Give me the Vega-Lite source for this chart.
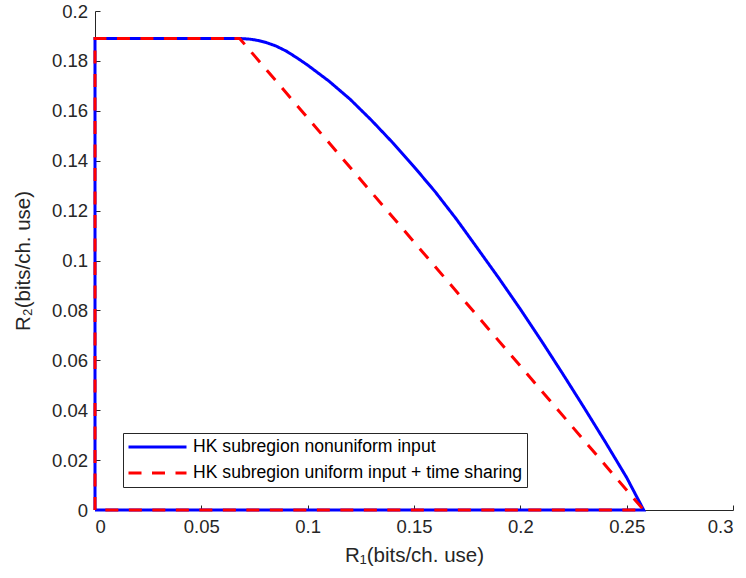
{
  "$schema": "https://vega.github.io/schema/vega-lite/v6.json",
  "width": 638,
  "height": 499,
  "autosize": {"type": "none"},
  "padding": {"left": 95, "top": 11, "right": 13, "bottom": 68},
  "background": "white",
  "config": {
    "view": {"stroke": null},
    "font": "Liberation Sans",
    "axis": {
      "grid": false,
      "domainColor": "#262626",
      "domainWidth": 1,
      "tickColor": "#262626",
      "tickWidth": 1,
      "tickSize": -5,
      "labelColor": "#262626",
      "labelFont": "Liberation Sans",
      "labelFontSize": 18.5,
      "titleFont": "Liberation Sans",
      "titleFontSize": 20.5,
      "titleFontWeight": "normal",
      "titleColor": "#262626"
    }
  },
  "data": {
    "values": [
      {"s": "HK subregion nonuniform input", "i": 0, "x": 0, "y": 0},
      {"s": "HK subregion nonuniform input", "i": 1, "x": 0, "y": 0.189},
      {"s": "HK subregion nonuniform input", "i": 2, "x": 0.066, "y": 0.189},
      {"s": "HK subregion nonuniform input", "i": 3, "x": 0.070, "y": 0.1889},
      {"s": "HK subregion nonuniform input", "i": 4, "x": 0.073, "y": 0.1887},
      {"s": "HK subregion nonuniform input", "i": 5, "x": 0.076, "y": 0.1883},
      {"s": "HK subregion nonuniform input", "i": 6, "x": 0.080, "y": 0.1875},
      {"s": "HK subregion nonuniform input", "i": 7, "x": 0.085, "y": 0.1860},
      {"s": "HK subregion nonuniform input", "i": 8, "x": 0.090, "y": 0.1839},
      {"s": "HK subregion nonuniform input", "i": 9, "x": 0.095, "y": 0.1812},
      {"s": "HK subregion nonuniform input", "i": 10, "x": 0.100, "y": 0.1783},
      {"s": "HK subregion nonuniform input", "i": 11, "x": 0.110, "y": 0.1719},
      {"s": "HK subregion nonuniform input", "i": 12, "x": 0.120, "y": 0.1646},
      {"s": "HK subregion nonuniform input", "i": 13, "x": 0.130, "y": 0.1562},
      {"s": "HK subregion nonuniform input", "i": 14, "x": 0.140, "y": 0.1472},
      {"s": "HK subregion nonuniform input", "i": 15, "x": 0.150, "y": 0.1376},
      {"s": "HK subregion nonuniform input", "i": 16, "x": 0.160, "y": 0.1275},
      {"s": "HK subregion nonuniform input", "i": 17, "x": 0.170, "y": 0.1165},
      {"s": "HK subregion nonuniform input", "i": 18, "x": 0.180, "y": 0.1047},
      {"s": "HK subregion nonuniform input", "i": 19, "x": 0.190, "y": 0.0928},
      {"s": "HK subregion nonuniform input", "i": 20, "x": 0.200, "y": 0.0805},
      {"s": "HK subregion nonuniform input", "i": 21, "x": 0.210, "y": 0.0677},
      {"s": "HK subregion nonuniform input", "i": 22, "x": 0.220, "y": 0.0545},
      {"s": "HK subregion nonuniform input", "i": 23, "x": 0.230, "y": 0.0410},
      {"s": "HK subregion nonuniform input", "i": 24, "x": 0.240, "y": 0.0272},
      {"s": "HK subregion nonuniform input", "i": 25, "x": 0.250, "y": 0.0130},
      {"s": "HK subregion nonuniform input", "i": 26, "x": 0.258, "y": 0},
      {"s": "HK subregion nonuniform input", "i": 27, "x": 0, "y": 0},
      {"s": "HK subregion uniform input + time sharing", "i": 0, "x": 0, "y": 0},
      {"s": "HK subregion uniform input + time sharing", "i": 1, "x": 0, "y": 0.189},
      {"s": "HK subregion uniform input + time sharing", "i": 2, "x": 0.068, "y": 0.189},
      {"s": "HK subregion uniform input + time sharing", "i": 3, "x": 0.258, "y": 0},
      {"s": "HK subregion uniform input + time sharing", "i": 4, "x": 0, "y": 0}
    ]
  },
  "mark": {"type": "line", "strokeWidth": 3, "interpolate": "linear", "clip": false},
  "encoding": {
    "x": {
      "field": "x",
      "type": "quantitative",
      "scale": {"domain": [0, 0.3], "nice": false, "zero": false},
      "axis": {
        "values": [0, 0.05, 0.1, 0.15, 0.2, 0.25, 0.3],
        "format": "~g",
        "title": "R₁(bits/ch. use)",
        "labelPadding": 12,
        "titlePadding": 10
      }
    },
    "y": {
      "field": "y",
      "type": "quantitative",
      "scale": {"domain": [0, 0.2], "nice": false, "zero": false},
      "axis": {
        "values": [0, 0.02, 0.04, 0.06, 0.08, 0.1, 0.12, 0.14, 0.16, 0.18, 0.2],
        "format": "~g",
        "title": "R₂(bits/ch. use)",
        "labelPadding": 12.5,
        "titlePadding": 18
      }
    },
    "order": {"field": "i", "type": "quantitative"},
    "color": {
      "field": "s",
      "type": "nominal",
      "title": null,
      "scale": {
        "domain": ["HK subregion nonuniform input", "HK subregion uniform input + time sharing"],
        "range": ["#0000ff", "#ff0000"]
      },
      "legend": {
        "orient": "none",
        "legendX": 28,
        "legendY": 422,
        "direction": "vertical",
        "symbolType": "stroke",
        "symbolSize": 3364,
        "symbolStrokeWidth": 3,
        "clipHeight": 20,
        "rowPadding": 6,
        "labelFontSize": 17.6,
        "labelLimit": 500,
        "labelColor": "#000000",
        "labelFont": "Liberation Sans",
        "labelOffset": 5,
        "padding": 4,
        "strokeColor": "#262626",
        "fillColor": "white"
      }
    },
    "strokeDash": {
      "field": "s",
      "type": "nominal",
      "title": null,
      "scale": {
        "domain": ["HK subregion nonuniform input", "HK subregion uniform input + time sharing"],
        "range": [[1, 0], [13, 10.5]]
      }
    }
  }
}
